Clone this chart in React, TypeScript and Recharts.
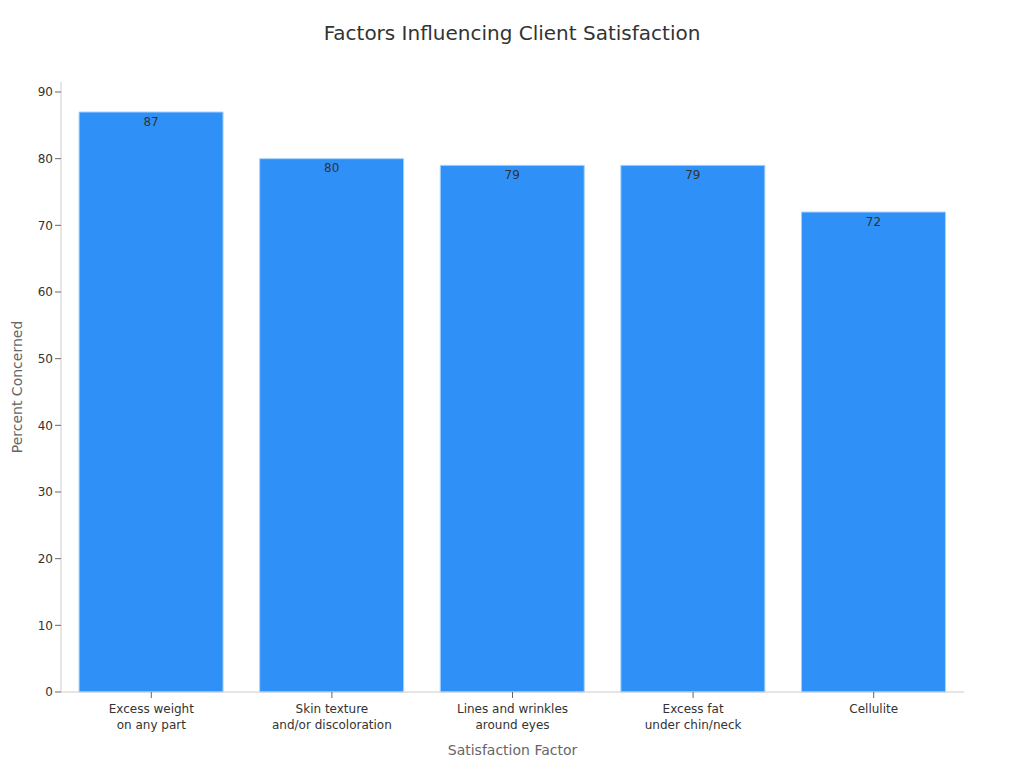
import { BarChart, Bar, XAxis, YAxis, LabelList, Label } from "recharts";

const categories = [
  "Excess weight\non any part",
  "Skin texture\nand/or discoloration",
  "Lines and wrinkles\naround eyes",
  "Excess fat\nunder chin/neck",
  "Cellulite",
];
const percents = [87, 80, 79, 79, 72];
const yTicks = [0, 10, 20, 30, 40, 50, 60, 70, 80, 90];

const data = categories.map((name, i) => ({ name, value: percents[i] }));

const FONT = "DejaVu Sans, sans-serif";

function CategoryTick(props: any) {
  const { x, y, payload } = props;
  const lines = String(payload.value).split("\n");
  return (
    <text x={x} y={y + 1} textAnchor="middle" fill="#333" fontSize={12} fontFamily={FONT}>
      {lines.map((l, i) => (
        <tspan key={i} x={x} dy={i === 0 ? 12 : 16}>
          {l}
        </tspan>
      ))}
    </text>
  );
}

function YTitle(props: any) {
  const vb = props.viewBox;
  const cy = vb.y + vb.height / 2;
  return (
    <text
      x={9}
      y={cy}
      transform={`rotate(-90, 9, ${cy})`}
      textAnchor="middle"
      dominantBaseline="central"
      fill="#666"
      fontSize={14}
      fontFamily={FONT}
    >
      Percent Concerned
    </text>
  );
}

function XTitle(props: any) {
  const vb = props.viewBox;
  return (
    <text
      x={vb.x + vb.width / 2}
      y={742}
      textAnchor="middle"
      dominantBaseline="central"
      fill="#666"
      fontSize={14}
      fontFamily={FONT}
    >
      Satisfaction Factor
    </text>
  );
}

export default function App() {
  return (
    <div style={{ position: "relative", width: 1008, height: 752, fontFamily: FONT }}>
      <div
        style={{
          position: "absolute",
          top: 13,
          left: 0,
          width: 1008,
          textAlign: "center",
          fontSize: 20,
          color: "#333",
        }}
      >
        Factors Influencing Client Satisfaction
      </div>
      <BarChart
        width={1008}
        height={752}
        data={data}
        margin={{ top: 74, right: 52, left: 1, bottom: 18 }}
        barCategoryGap="10%"
      >
        <XAxis
          dataKey="name"
          interval={0}
          height={50}
          stroke="#ccc"
          tickLine={{ stroke: "#666" }}
          tick={<CategoryTick />}
        >
          <Label content={<XTitle />} />
        </XAxis>
        <YAxis
          width={52}
          domain={[0, 91.5]}
          ticks={yTicks}
          stroke="#ccc"
          tickLine={{ stroke: "#666" }}
          tick={{ fill: "#333", fontSize: 12, fontFamily: FONT }}
        >
          <Label content={<YTitle />} />
        </YAxis>
        <Bar dataKey="value" fill="#2f91f7" stroke="#a9d2fb" strokeWidth={1} isAnimationActive={false}>
          <LabelList
            dataKey="value"
            position="insideTop"
            fill="#333"
            fontSize={12}
            fontFamily={FONT}
          />
        </Bar>
      </BarChart>
    </div>
  );
}
